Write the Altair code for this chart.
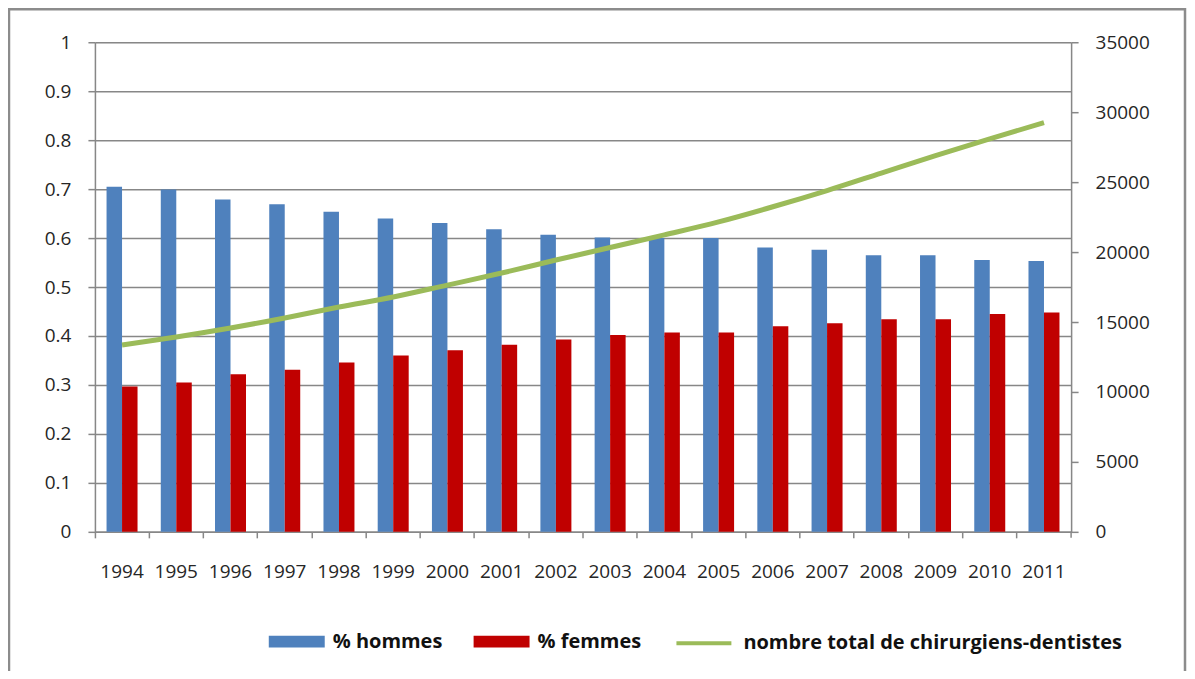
import altair as alt
import pandas as pd

years = ["1994", "1995", "1996", "1997", "1998", "1999", "2000", "2001", "2002",
         "2003", "2004", "2005", "2006", "2007", "2008", "2009", "2010", "2011"]
hommes = [0.705, 0.699, 0.679, 0.669, 0.654, 0.640, 0.631, 0.618, 0.607,
          0.601, 0.600, 0.600, 0.581, 0.576, 0.565, 0.565, 0.555, 0.553]
femmes = [0.297, 0.305, 0.322, 0.331, 0.346, 0.360, 0.371, 0.382, 0.393,
          0.402, 0.407, 0.407, 0.420, 0.426, 0.434, 0.434, 0.445, 0.448]
total = [13360, 13930, 14570, 15290, 16070, 16790, 17640, 18500, 19430,
         20330, 21230, 22160, 23240, 24400, 25650, 26900, 28100, 29250]

series_names = ["% hommes", "% femmes"]
line_name = "nombre total de chirurgiens-dentistes"
left_ticks = [0, 0.1, 0.2, 0.3, 0.4, 0.5, 0.6, 0.7, 0.8, 0.9, 1]
right_ticks = [0, 5000, 10000, 15000, 20000, 25000, 30000, 35000]

bars_df = pd.DataFrame(
    [{"year": y, "series": series_names[0], "value": v} for y, v in zip(years, hommes)]
    + [{"year": y, "series": series_names[1], "value": v} for y, v in zip(years, femmes)]
)
line_df = pd.DataFrame({"year": years, "total": total, "name": line_name})

GRAY = "#878787"
FONT = "Open Sans"
LABEL = "#262626"

x_axis = alt.Axis(
    title=None, labelAngle=0, bandPosition=0, domainColor=GRAY, domainWidth=1.5,
    tickColor=GRAY, tickWidth=1.5, tickSize=6, labelPadding=25, labelFontSize=19,
    labelColor=LABEL, grid=False,
)
x_scale = alt.Scale(domain=years, paddingInner=0, paddingOuter=0)

frame = alt.Chart(alt.Data(values=[{}])).mark_rect(
    fillOpacity=0, stroke="#8c8c8c", strokeWidth=2.5
).encode(
    x=alt.value(-86), x2=alt.value(1091), y=alt.value(-33), y2=alt.value(720)
)

end_tick = alt.Chart(alt.Data(values=[{}])).mark_rule(
    color=GRAY, strokeWidth=1.5
).encode(x=alt.value(977), y=alt.value(490), y2=alt.value(496))

bars = alt.Chart(bars_df).mark_bar().encode(
    x=alt.X("year:N", scale=x_scale, axis=x_axis, sort=years),
    xOffset=alt.XOffset("series:N", sort=series_names,
                        scale=alt.Scale(domain=series_names, paddingOuter=0.75, paddingInner=0)),
    y=alt.Y("value:Q", scale=alt.Scale(domain=[0, 1], nice=False),
            axis=alt.Axis(title=None, values=left_ticks, format="~g", orient="left",
                          grid=True, gridColor=GRAY, gridWidth=1.5,
                          domainColor=GRAY, domainWidth=1.5, tickColor=GRAY, tickWidth=1.5,
                          tickSize=7, labelPadding=17, labelFontSize=19, labelColor=LABEL)),
    color=alt.Color("series:N", scale=alt.Scale(domain=series_names, range=["#4F81BD", "#C00000"]),
                    legend=alt.Legend(
                        title=None, orient="none", legendX=174, legendY=572, direction="horizontal",
                        symbolType="M-1,-0.21H1V0.21H-1Z", symbolSize=3136, symbolStrokeWidth=0,
                        symbolOpacity=1, labelFontSize=20, labelFontWeight="bold", labelColor="#111111",
                        labelFont=FONT, columnPadding=31, labelOffset=8, padding=0, labelLimit=600)),
)

line = alt.Chart(line_df).mark_line(strokeWidth=5, interpolate="monotone").encode(
    x=alt.X("year:N", scale=x_scale, axis=x_axis, sort=years),
    y=alt.Y("total:Q", scale=alt.Scale(domain=[0, 35000], nice=False),
            axis=alt.Axis(title=None, values=right_ticks, format="d", orient="right",
                          grid=False, domainColor=GRAY, domainWidth=1.5, tickColor=GRAY,
                          tickWidth=1.5, tickSize=7, labelPadding=17, labelFontSize=19,
                          labelColor=LABEL)),
    stroke=alt.Stroke("name:N", scale=alt.Scale(domain=[line_name], range=["#9BBB59"]),
                      legend=alt.Legend(
                          title=None, orient="none", legendX=580, legendY=572,
                          symbolType="stroke", symbolSize=3025, symbolStrokeWidth=4,
                          labelFontSize=20, labelFontWeight="bold", labelColor="#111111",
                          labelFont=FONT, labelOffset=10, padding=0, labelLimit=700)),
)

chart = alt.layer(frame, bars, line, end_tick).resolve_scale(y="independent").properties(
    width=977, height=490,
    autosize=alt.AutoSizeParams(type="none"),
    padding={"left": 87, "top": 34, "right": 116, "bottom": 139},
).configure_view(strokeWidth=0).configure(
    font=FONT, background="white"
).configure_axis(labelFont=FONT)

chart.save("out.html", embed_options={"renderer": "svg", "actions": False})
